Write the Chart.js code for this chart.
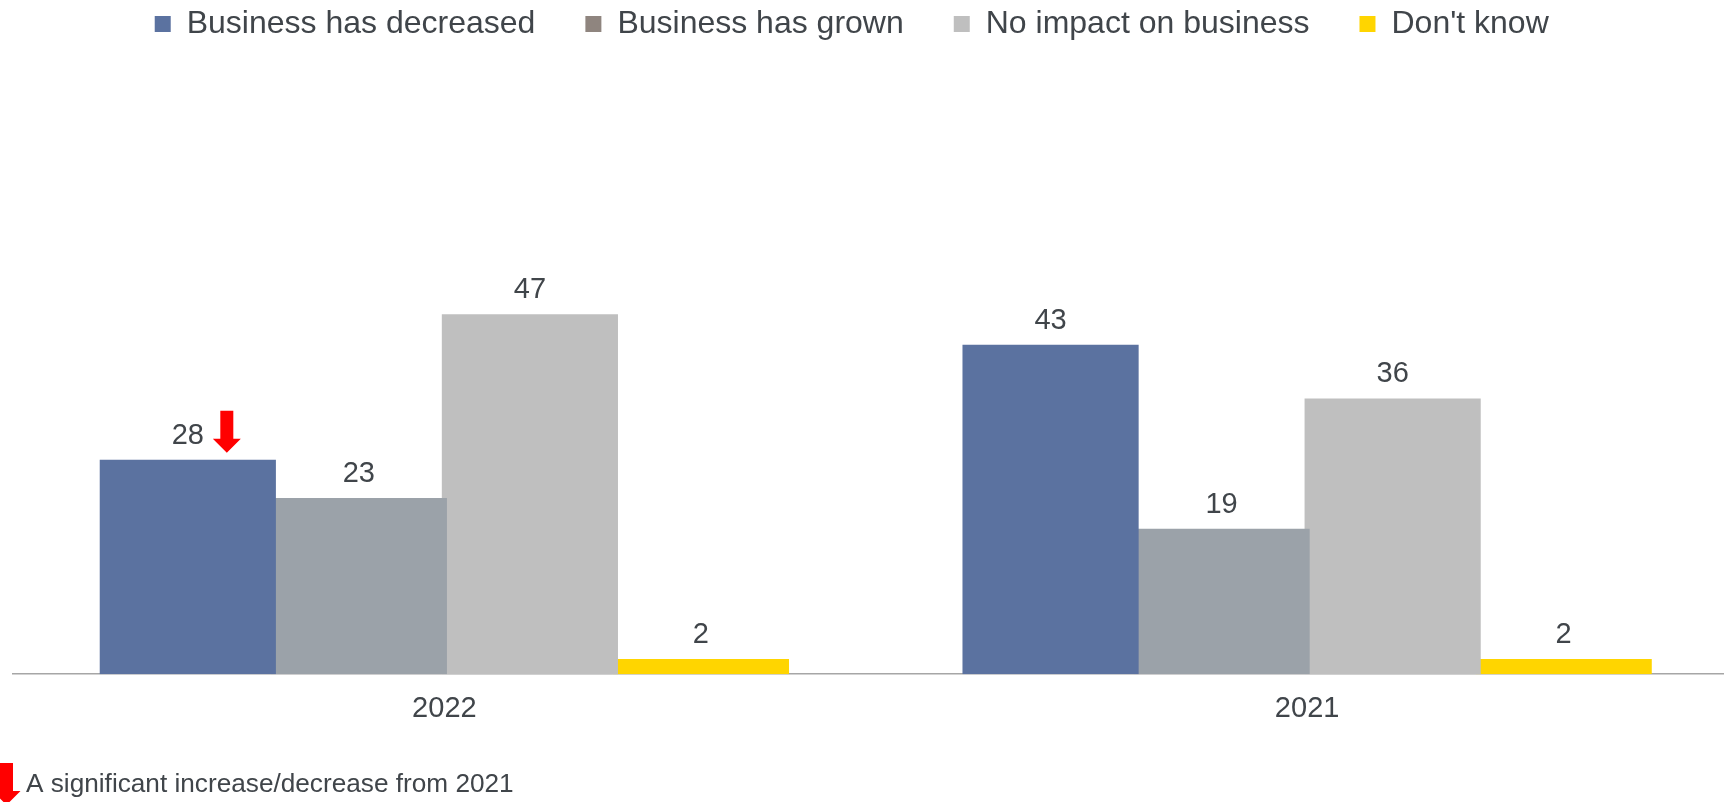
<!DOCTYPE html>
<html>
<head>
<meta charset="utf-8">
<script src="https://cdn.jsdelivr.net/npm/chart.js@4/dist/chart.umd.min.js"></script>
<style>
  html, body { margin: 0; padding: 0; background: #fff; overflow: hidden; }
  #chart { display: block; }
</style>
</head>
<body>
<canvas id="chart" width="1750" height="802"></canvas>
<script>
const years = ['2022', '2021'];
const seriesNames = ['Business has decreased', 'Business has grown', 'No impact on business', "Don't know"];
const decreased = [28, 43];
const grown = [23, 19];
const noImpact = [47, 36];
const dontKnow = [2, 2];
const barColors = ['#5b72a0', '#9ba2a9', '#bfbfbf', '#ffd500'];
const legendColors = ['#5b72a0', '#8f857f', '#bfbfbf', '#ffd500'];
// bars with a significant change from the previous wave: [series, year]
const significantDrops = [[0, 0]];
const footnote = 'A significant increase/decrease from 2021';

const textColor = '#40454a';
const fontFamily = '"Liberation Sans", Arial, Helvetica, sans-serif';
Chart.defaults.font.family = fontFamily;

// red downward arrow, centred on cx, starting at top
function drawDownArrow(ctx, cx, top) {
  const shaftW = 13, shaftH = 28, headW = 28, headH = 14;
  ctx.save();
  ctx.fillStyle = '#ff0000';
  ctx.beginPath();
  ctx.moveTo(cx - shaftW / 2, top);
  ctx.lineTo(cx + shaftW / 2, top);
  ctx.lineTo(cx + shaftW / 2, top + shaftH);
  ctx.lineTo(cx + headW / 2, top + shaftH);
  ctx.lineTo(cx, top + shaftH + headH);
  ctx.lineTo(cx - headW / 2, top + shaftH);
  ctx.lineTo(cx - shaftW / 2, top + shaftH);
  ctx.closePath();
  ctx.fill();
  ctx.restore();
}

// the legend is centred a bit left of the plot and sits close to the top edge
const legendNudge = {
  id: 'legendNudge',
  afterLayout(chart) {
    const lg = chart.legend;
    lg.left -= 24;
    lg.right -= 24;
    lg.top -= 42;
    lg.bottom -= 42;
  }
};

const valueLabels = {
  id: 'valueLabels',
  afterDatasetsDraw(chart) {
    const ctx = chart.ctx;
    ctx.save();
    ctx.font = '29px ' + fontFamily;
    ctx.fillStyle = textColor;
    ctx.textAlign = 'center';
    ctx.textBaseline = 'alphabetic';
    chart.data.datasets.forEach((ds, di) => {
      chart.getDatasetMeta(di).data.forEach((bar, i) => {
        ctx.fillText(String(ds.data[i]), bar.x, bar.y - 16);
      });
    });
    ctx.restore();

    significantDrops.forEach(([di, i]) => {
      const bar = chart.getDatasetMeta(di).data[i];
      drawDownArrow(ctx, bar.x + 39, bar.y - 49);
    });
  }
};

const footnoteText = {
  id: 'footnoteText',
  afterDraw(chart) {
    const ctx = chart.ctx;
    drawDownArrow(ctx, 6.5, 763);
    ctx.save();
    ctx.font = '26.2px ' + fontFamily;
    ctx.fillStyle = textColor;
    ctx.textAlign = 'left';
    ctx.textBaseline = 'alphabetic';
    ctx.fillText(footnote, 26, 792);
    ctx.restore();
  }
};

const seriesData = [decreased, grown, noImpact, dontKnow];

new Chart(document.getElementById('chart'), {
  type: 'bar',
  data: {
    labels: years,
    datasets: seriesData.map((values, i) => ({
      label: seriesNames[i],
      data: values,
      backgroundColor: barColors[i],
      borderWidth: 0,
      categoryPercentage: 0.793,
      barPercentage: 1.03
    }))
  },
  options: {
    responsive: false,
    animation: false,
    layout: { padding: { left: 13, right: 11.5, top: 0, bottom: 59 } },
    plugins: {
      tooltip: { enabled: false },
      legend: {
        position: 'top',
        labels: {
          color: textColor,
          font: { size: 32 },
          boxWidth: 16,
          boxHeight: 16,
          padding: 50,
          generateLabels(chart) {
            return Chart.defaults.plugins.legend.labels.generateLabels(chart).map(item => ({
              ...item,
              fillStyle: legendColors[item.datasetIndex],
              strokeStyle: legendColors[item.datasetIndex],
              lineWidth: 0
            }));
          }
        }
      }
    },
    scales: {
      x: {
        grid: { display: false, drawTicks: false },
        border: { display: true, color: '#a6a6a6', width: 1.5 },
        ticks: { color: textColor, font: { size: 29 }, padding: 17 }
      },
      y: { display: false, min: 0, max: 76 }
    }
  },
  plugins: [legendNudge, valueLabels, footnoteText]
});
</script>
</body>
</html>
